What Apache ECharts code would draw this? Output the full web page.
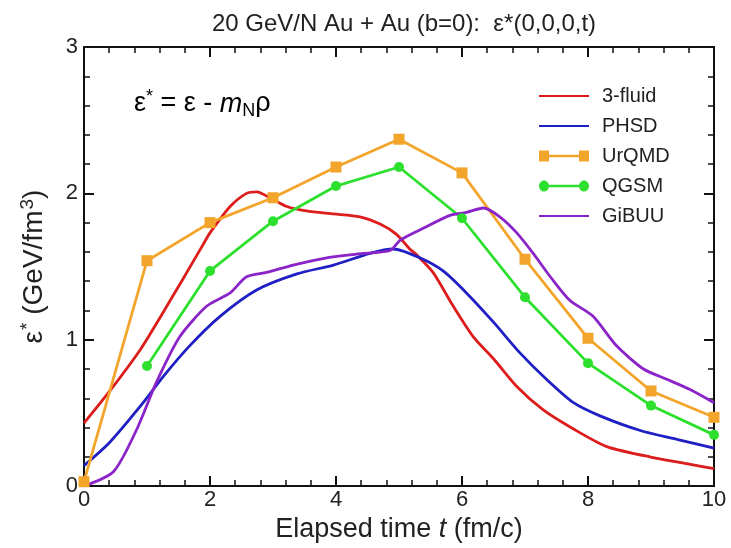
<!DOCTYPE html>
<html>
<head>
<meta charset="utf-8">
<script src="https://cdn.jsdelivr.net/npm/echarts@6/dist/echarts.min.js"></script>
<style>
    html, body { margin: 0; padding: 0; background: #fff; }
    #chart { width: 731px; height: 548px; }
</style>
</head>
<body>
<div id="chart"></div>
<script>
// 数据：近似值
var seriesNames = ["3-fluid", "PHSD", "UrQMD", "QGSM", "GiBUU"];

var fluidT = [0, 0.41, 0.89, 1.26, 1.55, 1.89, 2.0, 2.32, 2.58, 2.74, 2.95, 3.22, 3.53, 3.96, 4.38, 4.7, 4.96, 5.17, 5.28, 5.54, 5.86, 6.18, 6.5, 6.87, 7.29, 7.77, 8.3, 8.98, 10];
var fluidE = [0.43, 0.65, 0.93, 1.19, 1.40, 1.65, 1.73, 1.91, 2.0, 2.01, 1.97, 1.91, 1.88, 1.86, 1.84, 1.79, 1.72, 1.62, 1.58, 1.46, 1.23, 1.02, 0.87, 0.68, 0.52, 0.39, 0.27, 0.20, 0.12];

var phsdT = [0, 0.41, 0.94, 1.26, 1.68, 2.16, 2.74, 3.38, 3.96, 4.54, 4.91, 5.33, 5.7, 6.07, 6.5, 6.92, 7.34, 7.77, 8.19, 8.83, 9.41, 10];
var phsdE = [0.14, 0.30, 0.57, 0.75, 0.96, 1.16, 1.34, 1.45, 1.51, 1.59, 1.62, 1.56, 1.47, 1.32, 1.12, 0.91, 0.73, 0.57, 0.48, 0.38, 0.32, 0.26];

var gibuuT = [0, 0.47, 0.84, 1.15, 1.52, 1.95, 2.32, 2.58, 2.9, 3.32, 3.85, 4.43, 4.86, 5.02, 5.33, 5.81, 6.07, 6.34, 6.6, 6.87, 7.13, 7.42, 7.71, 8.08, 8.45, 8.88, 9.25, 9.62, 10];
var gibuuE = [0, 0.10, 0.39, 0.71, 1.02, 1.23, 1.32, 1.43, 1.46, 1.51, 1.56, 1.59, 1.61, 1.68, 1.75, 1.85, 1.87, 1.90, 1.84, 1.73, 1.59, 1.42, 1.27, 1.16, 0.96, 0.80, 0.73, 0.66, 0.57];

var urqmdT = [0, 1, 2, 3, 4, 5, 6, 7, 8, 9, 10];
var urqmdE = [0.03, 1.54, 1.80, 1.97, 2.18, 2.37, 2.14, 1.55, 1.01, 0.65, 0.47];

var qgsmT = [1, 2, 3, 4, 5, 6, 7, 8, 9, 10];
var qgsmE = [0.82, 1.47, 1.81, 2.05, 2.18, 1.83, 1.29, 0.84, 0.55, 0.35];

var xTicks = [0, 2, 4, 6, 8, 10];
var yTicks = [0, 1, 2, 3];

var colors = {
    "3-fluid": "#dd1c1c",
    "PHSD": "#1f1fc4",
    "UrQMD": "#f3a42a",
    "QGSM": "#2ee02e",
    "GiBUU": "#8a24c8"
};

var FONT = "Liberation Sans, Arial, sans-serif";

// 图例图标：两端带标记的线段
var ICON_SQUARES = "path://M0,0 L10,0 L10,4.3 L40,4.3 L40,0 L50,0 L50,11 L40,11 L40,6.7 L10,6.7 L10,11 L0,11 Z";
var ICON_CIRCLES = "path://M0,5.5 C0,2.5 2.2,0 5,0 C7.8,0 10,2.5 10,5.5 C10,8.5 7.8,11 5,11 C2.2,11 0,8.5 0,5.5 Z" +
    " M10,4.3 L40,4.3 L40,6.7 L10,6.7 Z" +
    " M40,5.5 C40,2.5 42.2,0 45,0 C47.8,0 50,2.5 50,5.5 C50,8.5 47.8,11 45,11 C42.2,11 40,8.5 40,5.5 Z";

var zip = function(xs, ys){
    var out = [];
    for(var i = 0; i < xs.length; i++){
        out.push([xs[i], ys[i]]);
    }
    return out;
};

var makeAxis = function(pos, isX, showLabel){
    var ticks = isX ? xTicks : yTicks;
    return {
        type: "value",
        position: pos,
        min: ticks[0],
        max: ticks[ticks.length - 1],
        interval: ticks[1] - ticks[0],
        axisLine: { show: true, onZero: false, lineStyle: { color: "#111", width: 2 } },
        axisTick: { show: true, inside: true, length: 10, lineStyle: { color: "#111", width: 2 } },
        minorTick: { show: true, splitNumber: 5, length: 6, lineStyle: { color: "#111", width: 1.5 } },
        splitLine: { show: false },
        axisLabel: {
            show: showLabel,
            color: "#222",
            fontFamily: FONT,
            fontSize: 22,
            margin: isX ? 3 : 6
        }
    };
};

var lineSeries = function(name, data, symbol){
    return {
        name: name,
        type: "line",
        data: data,
        smooth: symbol ? false : 0.25,
        symbol: symbol || "none",
        symbolSize: symbol === "rect" ? 11 : 10,
        showSymbol: !!symbol,
        lineStyle: { color: colors[name], width: 2.8 },
        itemStyle: { color: colors[name] },
        z: 3
    };
};

var legendItem = function(name){
    if(name === "UrQMD"){
        return { name: name, icon: ICON_SQUARES };
    }
    if(name === "QGSM"){
        return { name: name, icon: ICON_CIRCLES };
    }
    return { name: name, itemStyle: { opacity: 0 } };
};

var chart = echarts.init(document.getElementById("chart"));

var xBottom = makeAxis("bottom", true, true);
xBottom.name = "Elapsed time {i|t} (fm/c)";
xBottom.nameLocation = "middle";
xBottom.nameGap = 21;
xBottom.nameTextStyle = {
    color: "#222", fontFamily: FONT, fontSize: 27,
    rich: { i: { fontStyle: "italic", fontFamily: FONT, fontSize: 27, color: "#222" } }
};

var yLeft = makeAxis("left", false, true);
yLeft.name = "ε{s|*} (GeV/fm{s|3})";
yLeft.nameLocation = "middle";
yLeft.nameGap = 33;
yLeft.nameTextStyle = {
    color: "#222", fontFamily: FONT, fontSize: 28,
    rich: { s: { fontSize: 19, fontFamily: FONT, color: "#222", padding: [0, 0, 14, 1] } }
};

var option = {
    backgroundColor: "#fff",
    animation: false,
    title: {
        text: "20 GeV/N Au + Au (b=0):  ε*(0,0,0,t)",
        left: 399,
        textAlign: "center",
        top: 7,
        textStyle: { color: "#222", fontFamily: FONT, fontSize: 24, fontWeight: "normal" }
    },
    grid: { left: 84, right: 17, top: 47, bottom: 61 },
    legend: {
        orient: "vertical",
        left: 533,
        top: 81,
        itemWidth: 50,
        itemHeight: 11,
        itemGap: 10,
        data: seriesNames.map(legendItem),
        textStyle: { color: "#222", fontFamily: FONT, fontSize: 20, lineHeight: 20, padding: [0, 0, 0, 8] }
    },
    xAxis: [xBottom, makeAxis("top", true, false)],
    yAxis: [yLeft, makeAxis("right", false, false)],
    graphic: [{
        type: "text",
        left: 134,
        top: 88,
        style: {
            text: "{a|ε}{s|*}{a| = ε - }{i|m}{b|N}{a|ρ}",
            rich: {
                a: { fontFamily: FONT, fontSize: 27, color: "#222" },
                s: { fontFamily: FONT, fontSize: 18, color: "#222", padding: [0, 0, 14, 0] },
                i: { fontFamily: FONT, fontSize: 27, fontStyle: "italic", color: "#222" },
                b: { fontFamily: FONT, fontSize: 18, color: "#222", padding: [14, 0, 0, 0] }
            }
        }
    }],
    series: [
        lineSeries("3-fluid", zip(fluidT, fluidE)),
        lineSeries("PHSD", zip(phsdT, phsdE)),
        lineSeries("UrQMD", zip(urqmdT, urqmdE), "rect"),
        lineSeries("QGSM", zip(qgsmT, qgsmE), "circle"),
        lineSeries("GiBUU", zip(gibuuT, gibuuE))
    ]
};

chart.setOption(option);
</script>
</body>
</html>
